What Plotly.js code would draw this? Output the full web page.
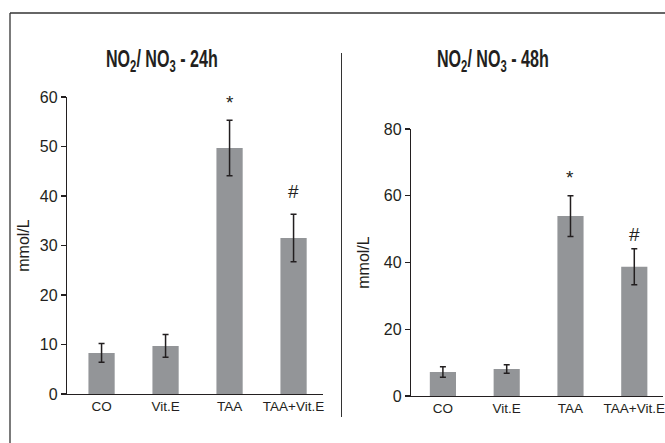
<!DOCTYPE html>
<html>
<head>
<meta charset="utf-8">
<script src="https://cdn.plot.ly/plotly-3.0.1.min.js"></script>
<style>html,body{margin:0;padding:0;background:#fff;}#chart{width:665px;height:443px;}</style>
</head>
<body>
<div id="chart"></div>
<script>
// ---- data ----
const categories = ["CO", "Vit.E", "TAA", "TAA+Vit.E"];
const values24 = [8.3, 9.7, 49.7, 31.5];
const errors24 = [1.9, 2.3, 5.6, 4.8];
const values48 = [7.2, 8.1, 53.9, 38.7];
const errors48 = [1.6, 1.3, 6.1, 5.4];
const marks = ["", "", "*", "#"];
const yTitle = "mmol/L";
const title24 = "<b>NO<sub>2</sub>/ NO<sub>3</sub> - 24h</b>";
const title48 = "<b>NO<sub>2</sub>/ NO<sub>3</sub> - 48h</b>";

// ---- style ----
const barColor = "#939598";
const ink = "#231f20";
const sans = "Liberation Sans, Arial, sans-serif";
const tickFont = {family: sans, size: 16, color: ink};
const xTickFont = {family: sans, size: 13.5, color: ink};
const titleFont = {family: sans, size: 23, color: ink};
const shift24 = [0, 0, 5, 10];
const shift48 = [0, 0, 6, 2];

function barTrace(vals, errs, xa, ya) {
  return {
    type: "bar", x: categories, y: vals, xaxis: xa, yaxis: ya,
    width: 0.41,
    marker: {color: barColor, line: {width: 0}},
    error_y: {type: "data", array: errs, visible: true, color: ink, thickness: 1.5, width: 3},
    hoverinfo: "none"
  };
}

function markAnnotations(vals, errs, xref, yref, shifts) {
  const out = [];
  marks.forEach((m, i) => {
    if (!m) return;
    out.push({
      x: categories[i], y: vals[i] + errs[i], xref: xref, yref: yref,
      text: m, showarrow: false, yanchor: "bottom", yshift: shifts[i],
      font: {family: sans, size: 19, color: ink}
    });
  });
  return out;
}

const xCommon = {
  type: "category", showline: true, linecolor: ink, linewidth: 1.2,
  ticks: "", showgrid: false, zeroline: false, tickfont: xTickFont, fixedrange: true
};
const yCommon = {
  showline: true, linecolor: ink, linewidth: 1.2, ticks: "outside", ticklen: 5,
  tickwidth: 1.2, tickcolor: ink, showgrid: false, zeroline: false, tickfont: tickFont,
  fixedrange: true
};

const layout = {
  width: 665, height: 443,
  margin: {l: 0, r: 0, t: 0, b: 0},
  paper_bgcolor: "#fff", plot_bgcolor: "rgba(0,0,0,0)",
  showlegend: false,
  xaxis: Object.assign({}, xCommon, {domain: [67/665, 323/665], range: [-0.54, 3.46], anchor: "y"}),
  yaxis: Object.assign({}, yCommon, {domain: [(443-394)/443, (443-97)/443], range: [0, 60], dtick: 10, anchor: "x",
    title: {text: yTitle, font: {family: sans, size: 16, color: ink}, standoff: 6}}),
  xaxis2: Object.assign({}, xCommon, {domain: [411/665, 663/665], range: [-0.5, 3.45], anchor: "y2"}),
  yaxis2: Object.assign({}, yCommon, {domain: [(443-396)/443, (443-129)/443], range: [0, 80], dtick: 20, anchor: "x2",
    title: {text: yTitle, font: {family: sans, size: 16, color: ink}, standoff: 10}}),
  annotations: [
    {text: title24, xref: "paper", yref: "paper", x: 162/665, y: (443-61)/443, xanchor: "center", yanchor: "middle", showarrow: false, font: titleFont},
    {text: title48, xref: "paper", yref: "paper", x: 493/665, y: (443-61)/443, xanchor: "center", yanchor: "middle", showarrow: false, font: titleFont}
  ].concat(markAnnotations(values24, errors24, "x", "y", shift24))
   .concat(markAnnotations(values48, errors48, "x2", "y2", shift48)),
  shapes: [
    {type: "line", xref: "paper", yref: "paper", x0: 10/665, x1: 10/665, y0: 0, y1: (443-13)/443, line: {color: "#333", width: 1.3}},
    {type: "line", xref: "paper", yref: "paper", x0: 10/665, x1: 1, y0: (443-13)/443, y1: (443-13)/443, line: {color: "#333", width: 1.3}},
    {type: "line", xref: "paper", yref: "paper", x0: 341.5/665, x1: 341.5/665, y0: (443-417)/443, y1: (443-53)/443, line: {color: "#333", width: 1}}
  ]
};

Plotly.newPlot("chart", [
  barTrace(values24, errors24, "x", "y"),
  barTrace(values48, errors48, "x2", "y2")
], layout, {staticPlot: true, displayModeBar: false}).then(function (gd) {
  // condensed look for the panel titles (the reference uses a narrow bold face)
  const texts = gd.querySelectorAll(".annotation text.annotation-text");
  for (let i = 0; i < 2 && i < texts.length; i++) {
    const t = texts[i];
    t.style.transformBox = "fill-box";
    t.style.transformOrigin = "center";
    t.style.transform = "scaleX(0.7)";
  }
});
</script>
</body>
</html>
